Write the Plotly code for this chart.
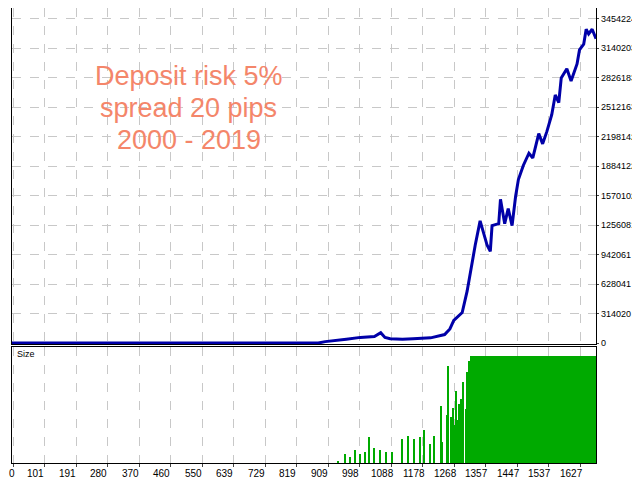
import plotly.graph_objects as go

# equity curve (trade #, balance)
eq_trade = [8, 880, 900, 930, 960, 1000, 1040, 1058, 1070, 1085, 1120, 1150, 1200, 1240, 1255, 1266, 1290, 1304, 1316, 1327, 1341,
            1361, 1370, 1375, 1394, 1399, 1411, 1421, 1432, 1442, 1450, 1464, 1480, 1491, 1508, 1519, 1531,
            1545, 1555, 1565, 1572, 1588, 1600, 1617, 1624, 1636, 1643, 1650, 1660, 1671]
eq_value = [0, 0, 15000, 25000, 40000, 60000, 70000, 110000, 60000, 45000, 40000, 45000, 55000, 90000, 150000, 242000, 324000, 552000, 813000, 1040000, 1300000,
            1040000, 976000, 1250000, 1270000, 1530000, 1270000, 1430000, 1250000, 1560000, 1740000, 1890000, 2020000, 1970000, 2230000, 2120000, 2250000,
            2430000, 2640000, 2560000, 2820000, 2920000, 2790000, 2970000, 3120000, 3180000, 3340000, 3290000, 3340000, 3240000]

# lot size bars (trade #, relative size)
size_trade = [937, 958, 972, 986, 1000, 1015, 1024, 1039, 1056, 1073, 1090, 1119, 1136, 1153, 1170, 1182, 1199, 1211, 1229, 1234,
              1246, 1251, 1260, 1264, 1267, 1274, 1278, 1282, 1287, 1293, 1300, 1305, 1310]
size_value = [0.02, 0.08, 0.06, 0.12, 0.08, 0.10, 0.24, 0.14, 0.12, 0.10, 0.10, 0.22, 0.25, 0.22, 0.24, 0.31, 0.18, 0.25, 0.53, 0.20,
              0.45, 0.90, 0.43, 0.51, 0.35, 0.67, 0.40, 0.55, 0.60, 0.75, 0.50, 0.85, 0.95]
full_start, full_end, full_size = 1313, 1671, 1.0

y_ticks = [0, 314020, 628041, 942061, 1256081, 1570102, 1884122, 2198142, 2512163, 2826183, 3140203, 3454224]
x_ticks = [13, 101, 191, 280, 370, 460, 550, 639, 729, 819, 909, 998, 1088, 1178, 1268, 1357, 1447, 1537, 1627]
x_labels = ["0", "101", "191", "280", "370", "460", "550", "639", "729", "819", "909", "998", "1088", "1178",
            "1268", "1357", "1447", "1537", "1627"]
title_lines = ["Deposit risk 5%", "spread 20 pips", "2000 - 2019"]

x_min, x_max = 8, 1671

fig = go.Figure()
fig.add_trace(go.Scatter(x=eq_trade, y=eq_value, mode="lines", line=dict(color="#0000A8", width=3),
                         xaxis="x", yaxis="y", showlegend=False))
fig.add_trace(go.Bar(x=size_trade, y=size_value, width=4, marker=dict(color="#00AA00", line=dict(width=0)),
                     xaxis="x2", yaxis="y2", showlegend=False))
fig.add_trace(go.Bar(x=[(full_start + full_end) / 2], y=[full_size], width=[full_end - full_start],
                     marker=dict(color="#00AA00", line=dict(width=0)), xaxis="x2", yaxis="y2", showlegend=False))

grid = dict(showgrid=True, gridcolor="#C8C8C8", griddash="dash", gridwidth=1,
            showline=True, linecolor="black", linewidth=1, mirror=True, zeroline=False)
tf = dict(family="Liberation Sans", size=9, color="black")

fig.update_layout(
    width=640, height=480, paper_bgcolor="white", plot_bgcolor="white",
    margin=dict(l=4, r=52, t=0, b=25), bargap=0,
    xaxis=dict(domain=[0, 1], range=[x_min, x_max], tickvals=x_ticks, showticklabels=False, anchor="y", **grid),
    yaxis=dict(domain=[0.2615, 1], range=[-10600, 3566000], side="right", tickvals=y_ticks,
               showticklabels=False, ticks="outside", ticklen=2, anchor="x", automargin=False, **grid),
    xaxis2=dict(domain=[0, 1], range=[x_min, x_max], tickvals=x_ticks, showticklabels=False,
                ticks="outside", ticklen=3, anchor="y2", **grid),
    yaxis2=dict(domain=[0, 0.255], range=[0, 1.08], side="right", showticklabels=False, showgrid=False,
                showline=True, linecolor="black", mirror=True, zeroline=False, anchor="x2"),
    font=tf,
)
for v in y_ticks:
    fig.add_annotation(text=str(v), xref="paper", yref="y", x=1, y=v, xshift=3, xanchor="left",
                       yanchor="middle", showarrow=False, font=tf)
for v, lab in zip(x_ticks, x_labels):
    fig.add_annotation(text=lab, xref="paper", yref="paper", x=(v - x_min) / (x_max - x_min), y=0,
                       yshift=-3, xshift=-9 if lab != "0" else -2,
                       xanchor="center", yanchor="top", showarrow=False, font=dict(tf, size=10))
fig.add_annotation(text="Size", xref="paper", yref="paper", x=0.005, y=0.255, xanchor="left", yanchor="top",
                   showarrow=False, font=dict(family="Liberation Sans", size=9, color="black"))
for i, line in enumerate(title_lines):
    fig.add_annotation(text=line, xref="paper", yref="paper", x=0.303, y=(455 - 68 - 32 * i) / 455,
                       xanchor="center", yanchor="middle", showarrow=False,
                       font=dict(family="Liberation Sans", size=27, color="#F4866A"))
fig.write_html("out.html")
